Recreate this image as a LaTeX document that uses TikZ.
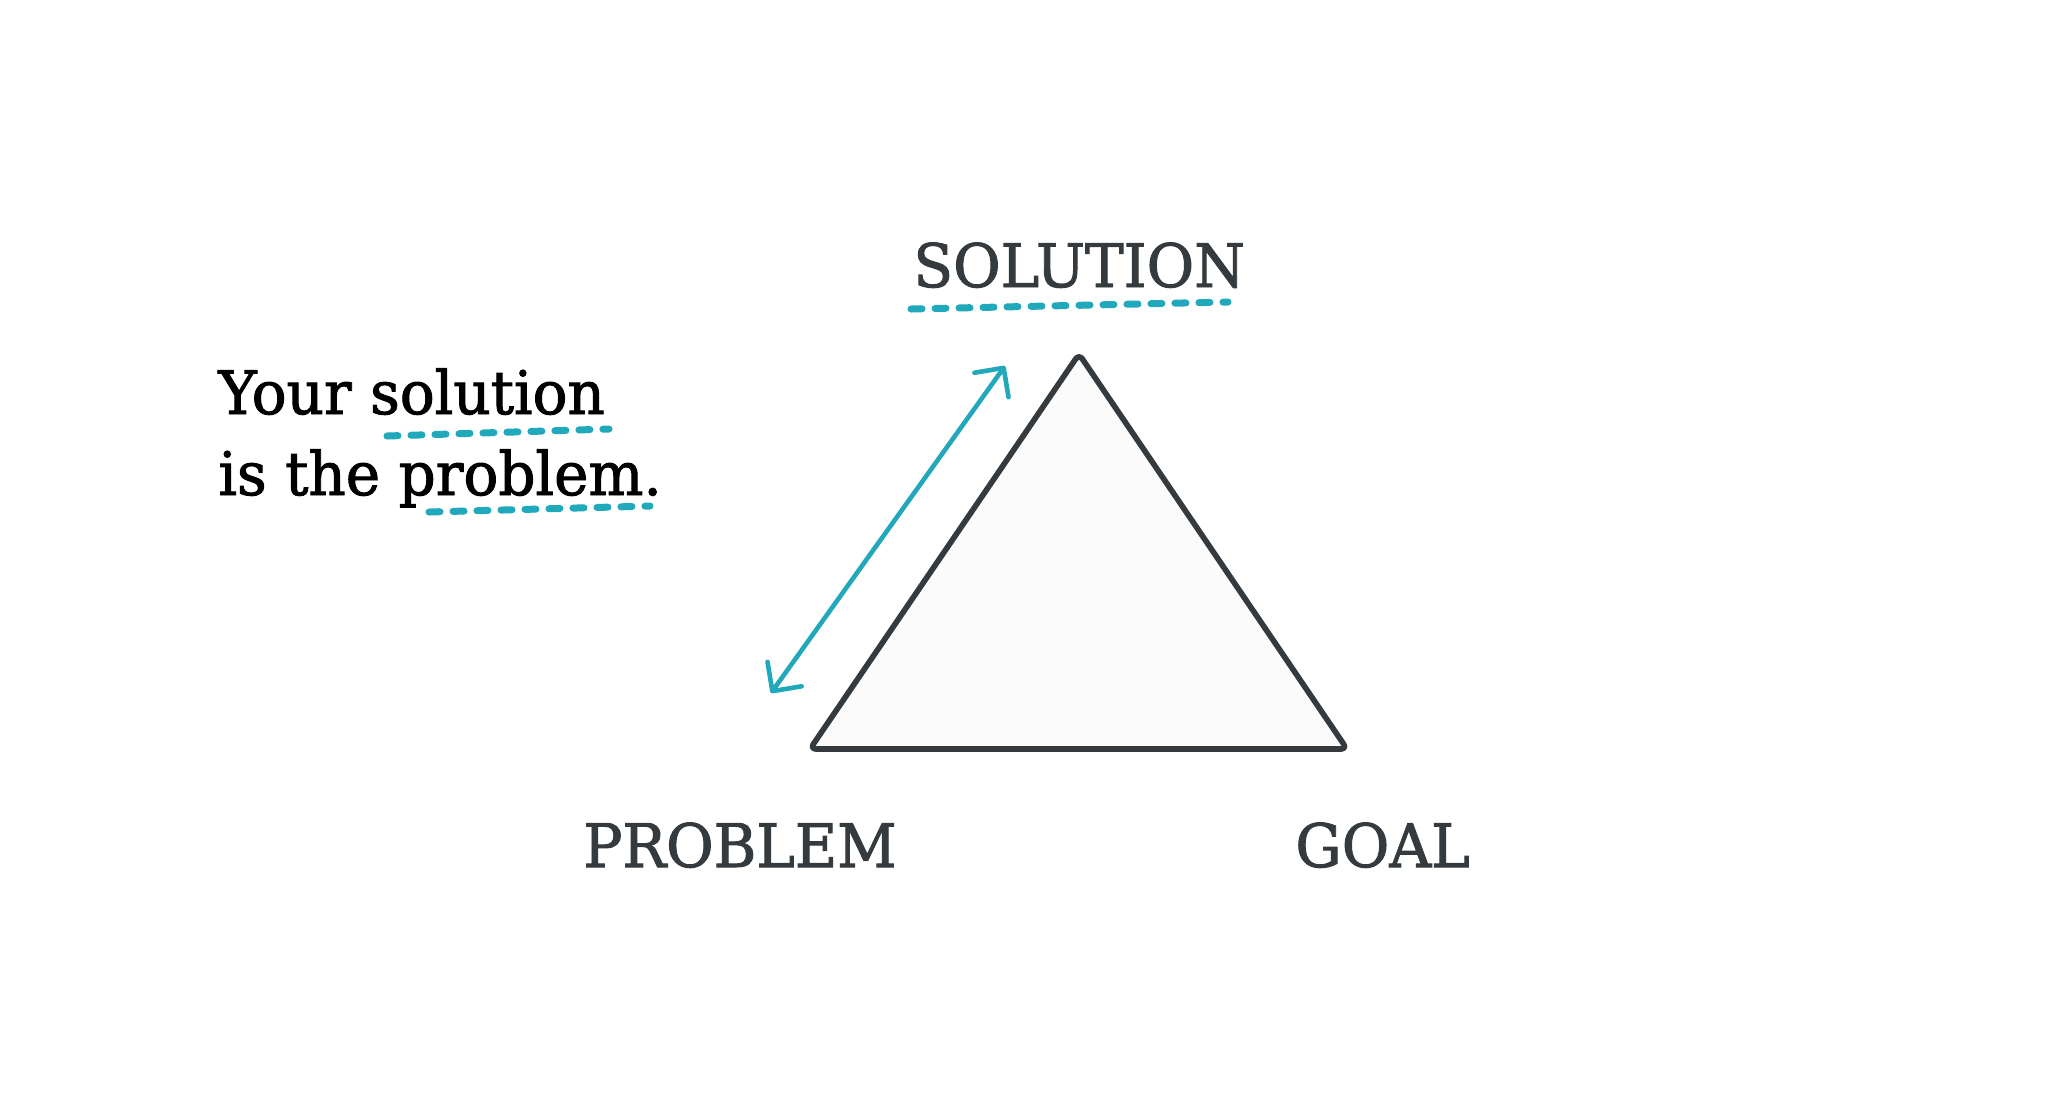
\documentclass[tikz,border=0pt]{standalone}
\usepackage{fontspec}
\setmainfont{DejaVu Serif}[FakeStretch=0.967,FakeBold=1.6]
\usetikzlibrary{arrows.meta}
\definecolor{ink}{HTML}{343A3D}
\definecolor{teal}{HTML}{22A8BB}
\definecolor{paper}{HTML}{FBFBFB}
\begin{document}
\begin{tikzpicture}[x=0.5pt,y=-0.5pt,
  label/.style={inner sep=0pt,anchor=base west,text=ink,font=\fontsize{30}{36}\selectfont},
  quote/.style={inner sep=0pt,anchor=base west,text=black,font=\fontsize{30}{36}\selectfont},
  squiggle/.style={draw=teal,line width=3.5pt,line cap=round,dash pattern=on 5.5pt off 6.5pt},
  tri/.style={draw=ink,fill=paper,line width=2.8pt,line join=round,rounded corners=3pt},
  twoway/.style={draw=teal,line width=2.3pt,line cap=round,
    {Straight Barb[length=10.5pt,width=21pt,line cap=round,line join=round]}-{Straight Barb[length=10.5pt,width=21pt,line cap=round,line join=round]}}]
\useasboundingbox[fill=white] (0,0) rectangle (2048,1110);
% triangle
\coordinate (apex) at (1079,354);
\coordinate (bl) at (810,749);
\coordinate (br) at (1347,749);
\path[tri] (apex) -- (br) -- (bl) -- cycle;
% labels
\node[label] (sol) at (913,287) {SOLUTION};
\node[label] (prob) at (583,867) {PROBLEM};
\node[label] (goal) at (1295,867) {GOAL};
\node[quote] (l1) at (218,414) {Your solution};
\node[quote] (l2) at (218,495) {is the problem.};
% underlines
\coordinate (s1) at (911,309); \coordinate (s2) at (1228,302);
\coordinate (u1) at (387,436); \coordinate (u2) at (609,429);
\coordinate (p1) at (429,512); \coordinate (p2) at (650,506);
\path[squiggle] (s1) -- (s2);
\path[squiggle] (u1) -- (u2);
\path[squiggle] (p1) -- (p2);
% arrow
\coordinate (a1) at (771,693);
\coordinate (a2) at (1005,366);
\path[twoway] (a1) -- (a2);
\end{tikzpicture}
\end{document}
